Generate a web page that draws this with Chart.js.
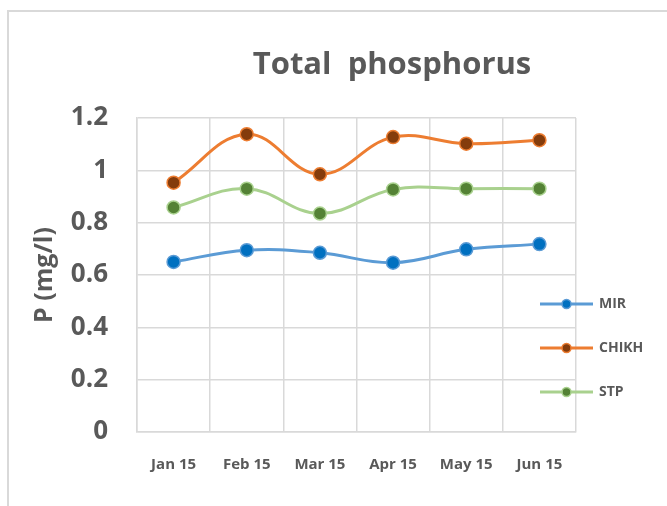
<!DOCTYPE html>
<html>
  <head>
    <title>Total phosphorus</title>
    <style>
      body { margin: 0; background: #fff; }
      #frame {
        position: absolute; left: 7px; top: 10px; width: 700px; height: 600px;
        border-left: 2px solid #d9d9d9; border-top: 2px solid #d9d9d9;
      }
      #wrap { position: absolute; left: 0; top: 0; width: 667px; height: 506px; }
    </style>
  </head>
  <body>
    <div id="frame"></div>
    <div id="wrap"><canvas id="myChart"></canvas></div>

    <script src="https://cdn.jsdelivr.net/npm/chart.js@4"></script>
    <script>
      // data
      const months = ["Jan 15", "Feb 15", "Mar 15", "Apr 15", "May 15", "Jun 15"];
      const mir = [0.65, 0.695, 0.685, 0.647, 0.698, 0.718];
      const chikh = [0.953, 1.138, 0.985, 1.127, 1.102, 1.115];
      const stp = [0.858, 0.93, 0.835, 0.927, 0.93, 0.93];
      const yTicks = [0, 0.2, 0.4, 0.6, 0.8, 1, 1.2];

      const textColor = "#595959";
      const gridColor = "#d9d9d9";
      const fontFamily = "'Open Sans', 'Liberation Sans', sans-serif";

      // Excel style legend: short line with a marker in the middle
      const lineLegend = {
        id: "lineLegend",
        afterDraw(chart, args, opts) {
          const ctx = chart.ctx;
          ctx.save();
          chart.data.datasets.forEach((ds, i) => {
            const y = opts.top + i * opts.step;
            ctx.strokeStyle = ds.borderColor;
            ctx.lineWidth = 3;
            ctx.beginPath();
            ctx.moveTo(opts.x, y);
            ctx.lineTo(opts.x + opts.lineLen, y);
            ctx.stroke();
            ctx.beginPath();
            ctx.arc(opts.x + opts.lineLen / 2, y, 4.5, 0, Math.PI * 2);
            ctx.fillStyle = ds.pointBackgroundColor;
            ctx.fill();
            ctx.lineWidth = 1.5;
            ctx.strokeStyle = ds.pointBorderColor;
            ctx.stroke();
            ctx.fillStyle = textColor;
            ctx.font = "bold 14px " + fontFamily;
            ctx.textBaseline = "middle";
            ctx.textAlign = "left";
            ctx.fillText(ds.label, opts.x + opts.lineLen + 6, y);
          });
          ctx.restore();
        },
      };

      // title sits right of the plot centre in the original
      const shiftTitle = {
        id: "shiftTitle",
        afterLayout(chart) {
          chart.titleBlock.left = 117;
          chart.titleBlock.right = 667;
        },
      };

      const ctx = document.getElementById("myChart").getContext("2d");
      const myChart = new Chart(ctx, {
        type: "line",
        data: {
          labels: months,
          datasets: [
            {
              label: "MIR",
              data: mir,
              borderColor: "#5b9bd5",
              pointBackgroundColor: "#0070c0",
              pointBorderColor: "#5b9bd5",
            },
            {
              label: "CHIKH",
              data: chikh,
              borderColor: "#ed7d31",
              pointBackgroundColor: "#843c0c",
              pointBorderColor: "#ed7d31",
            },
            {
              label: "STP",
              data: stp,
              borderColor: "#a9d18e",
              pointBackgroundColor: "#548235",
              pointBorderColor: "#a9d18e",
            },
          ],
        },
        options: {
          responsive: true,
          maintainAspectRatio: false,
          animation: false,
          layout: { padding: { left: 0, right: 91, top: 0, bottom: 0 } },
          elements: {
            line: { borderWidth: 3, tension: 0.4, fill: false },
            point: { radius: 6.5, borderWidth: 1.5, hoverRadius: 6.5 },
          },
          scales: {
            x: {
              offset: true,
              grid: { offset: true, color: gridColor, lineWidth: 1.5, drawTicks: false },
              border: { color: gridColor, width: 1.5 },
              ticks: {
                color: textColor,
                padding: 24,
                font: { family: fontFamily, size: 15, weight: "bold" },
              },
              afterFit(scale) { scale.height = 74; },
            },
            y: {
              min: 0,
              max: 1.2,
              afterBuildTicks(scale) { scale.ticks = yTicks.map((v) => ({ value: v })); },
              grid: { color: gridColor, lineWidth: 1.5, drawTicks: false },
              border: { color: gridColor, width: 1.5 },
              ticks: {
                color: textColor,
                padding: 29,
                font: { family: fontFamily, size: 26, weight: "bold" },
                callback: (v) => String(v),
              },
              title: {
                display: true,
                text: "P (mg/l)",
                color: textColor,
                padding: { top: 30, bottom: 0 },
                font: { family: fontFamily, size: 25, weight: "bold" },
              },
              afterFit(scale) { scale.width = 137; },
            },
          },
          plugins: {
            legend: { display: false },
            tooltip: { enabled: false },
            title: {
              display: true,
              text: "Total  phosphorus",
              color: textColor,
              padding: { top: 47, bottom: 33.8 },
              font: { family: fontFamily, size: 31, weight: "bold", lineHeight: 1.2 },
            },
            lineLegend: { x: 540, lineLen: 53, top: 304, step: 44 },
          },
        },
        plugins: [lineLegend, shiftTitle],
      });
    </script>
  </body>
</html>
